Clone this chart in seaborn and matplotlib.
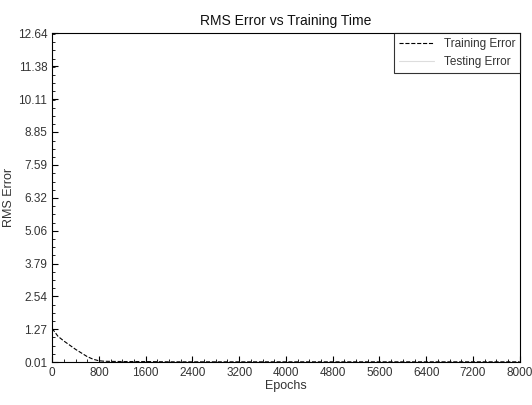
import matplotlib
matplotlib.use("Agg")
import matplotlib.pyplot as plt
import seaborn as sns
import pandas as pd
from matplotlib.ticker import AutoMinorLocator

sns.set_theme(style="ticks")
plt.rcParams['font.family'] = ['Liberation Sans', 'DejaVu Sans']

train_epochs = [0, 50, 100, 200, 300, 400, 500, 600, 700, 800, 900, 1200, 1600, 2000, 2400, 2800,
                3200, 3600, 4000, 4400, 4800, 5200, 5600, 6000, 6400, 6800, 7200, 7600, 8000]
train_error = [1.30, 1.15, 1.00, 0.82, 0.66, 0.50, 0.36, 0.22, 0.12, 0.06, 0.04, 0.03, 0.03, 0.02,
               0.02, 0.02, 0.02, 0.02, 0.02, 0.02, 0.02, 0.02, 0.02, 0.02, 0.02, 0.02, 0.02, 0.02, 0.02]

test_epochs = [0, 800, 1600, 2400, 3200, 4000, 4800, 5600, 6400, 7200, 8000]
test_error = [0.02, 0.02, 0.02, 0.02, 0.02, 0.02, 0.02, 0.02, 0.02, 0.02, 0.02]

y_ticks = [0.01, 1.27, 2.54, 3.79, 5.06, 6.32, 7.59, 8.85, 10.11, 11.38, 12.64]
y_tick_labels = ["0.01", "1.27", "2.54", "3.79", "5.06", "6.32", "7.59", "8.85", "10.11", "11.38", "12.64"]
x_ticks = [0, 800, 1600, 2400, 3200, 4000, 4800, 5600, 6400, 7200, 8000]

train_df = pd.DataFrame({"Epochs": train_epochs, "RMS Error": train_error})
test_df = pd.DataFrame({"Epochs": test_epochs, "RMS Error": test_error})

fig = plt.figure(figsize=(5.32, 4.05), dpi=100)
ax = fig.add_axes([0.098, 0.106, 0.879, 0.812])

sns.lineplot(data=train_df, x="Epochs", y="RMS Error", ax=ax, color="black",
             linestyle="--", linewidth=0.8, label="Training Error")
sns.lineplot(data=test_df, x="Epochs", y="RMS Error", ax=ax, color="#dddddd",
             linestyle="-", linewidth=0.8, label="Testing Error")

ax.set_xlim(0, 8000)
ax.set_ylim(0.01, 12.64)
ax.set_xticks(x_ticks)
ax.set_yticks(y_ticks)
ax.set_yticklabels(y_tick_labels)
ax.xaxis.set_minor_locator(AutoMinorLocator(4))
ax.yaxis.set_minor_locator(AutoMinorLocator(4))
ax.tick_params(which="both", direction="in", colors="black", labelcolor="#333333", labelsize=8.5)
ax.tick_params(which="major", length=4, width=0.8)
ax.tick_params(which="minor", length=2, width=0.6)
for s in ax.spines.values():
    s.set_color("black")
    s.set_linewidth(0.8)

ax.set_title("RMS Error vs Training Time", fontsize=10, color="#111111", pad=6)
ax.set_xlabel("Epochs", fontsize=9, color="#333333", labelpad=1)
ax.set_ylabel("RMS Error", fontsize=9, color="#333333", labelpad=2)

leg = ax.legend(loc="upper right", fontsize=8.5, frameon=True, fancybox=False,
                borderaxespad=0.0, handlelength=3)
leg.get_frame().set_edgecolor("black")
leg.get_frame().set_linewidth(0.8)
for t in leg.get_texts():
    t.set_color("#333333")

fig.savefig("out.png", dpi=100, facecolor="white")
